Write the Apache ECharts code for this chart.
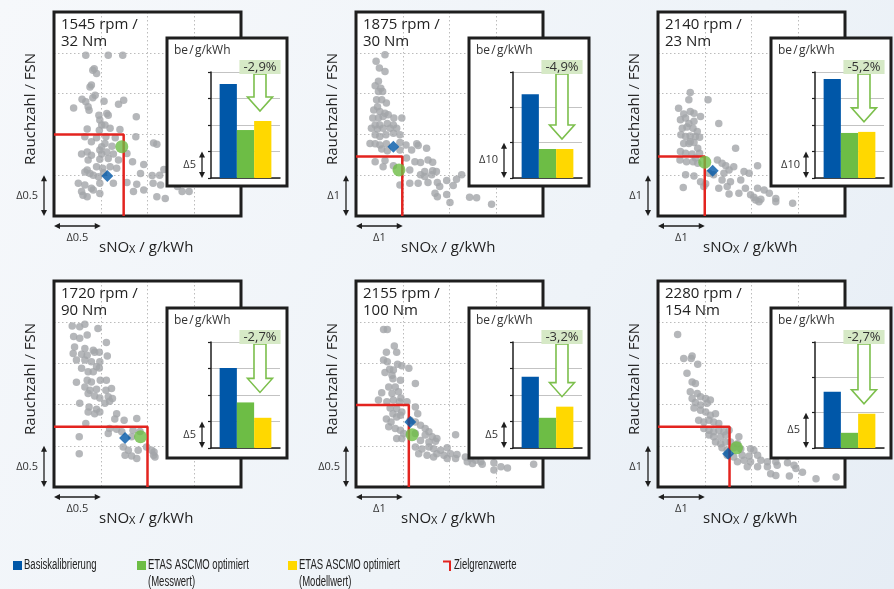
<!DOCTYPE html>
<html><head><meta charset="utf-8">
<script src="https://cdn.jsdelivr.net/npm/echarts@6/dist/echarts.min.js"></script>
<style>html,body{margin:0;padding:0;background:#f3f6fa}#c{width:894px;height:589px}</style>
</head><body><div id="c"></div>
<script>
// ---------- DATA ----------
const operatingPoints = [['1545 rpm /','32 Nm'],['1875 rpm /','30 Nm'],['2140 rpm /','23 Nm'],['1720 rpm /','90 Nm'],['2155 rpm /','100 Nm'],['2280 rpm /','154 Nm']];

// measured variation points (sNOx [scale steps], Rauchzahl [scale steps])
const cloud1545 = [[0.68,3.94],[1.16,3.94],[1.47,3.94],[0.86,3.61],[0.83,3.57],[0.91,3.49],[0.80,3.21],[0.77,3.16],[0.88,2.96],[0.83,2.90],[0.60,2.86],[0.68,2.80],[1.07,2.81],[1.49,2.84],[1.38,2.74],[0.42,2.65],[0.73,2.68],[0.75,2.59],[1.13,2.51],[1.16,2.47],[0.96,2.47],[0.98,2.35],[1.76,2.43],[1.02,2.23],[1.09,2.23],[0.97,2.10],[1.20,2.15],[1.41,2.12],[0.71,2.13],[0.66,1.94],[0.91,1.92],[1.11,1.94],[1.31,1.92],[1.75,1.94],[0.80,1.82],[1.09,1.78],[1.02,1.70],[1.24,1.71],[2.13,1.79],[2.20,1.76],[0.59,1.52],[0.71,1.57],[0.98,1.62],[1.13,1.57],[0.80,1.49],[1.02,1.52],[1.27,1.52],[1.56,1.53],[0.73,1.37],[0.98,1.39],[1.16,1.41],[1.38,1.37],[1.68,1.33],[1.92,1.26],[0.91,1.21],[1.04,1.17],[1.20,1.21],[0.71,1.13],[1.34,1.17],[0.66,1.08],[0.77,1.04],[0.84,1.00],[1.06,1.06],[0.95,0.96],[1.85,1.04],[2.10,0.99],[2.26,1.00],[2.35,1.14],[0.52,0.80],[0.66,0.76],[0.80,0.68],[0.98,0.80],[1.27,0.80],[1.77,0.78],[1.56,0.82],[0.59,0.60],[0.62,0.51],[0.84,0.64],[0.71,0.47],[0.98,0.55],[1.70,0.60],[1.92,0.64],[2.12,0.80],[2.28,0.76],[2.74,0.60],[2.89,0.60],[2.64,0.72],[2.20,0.47],[2.38,0.43]];
const cloud1875 = [[0.62,3.95],[0.43,3.79],[0.50,3.63],[0.62,3.54],[0.48,3.30],[0.41,3.19],[0.53,3.13],[0.48,3.05],[0.57,3.05],[0.44,2.85],[0.55,2.85],[0.65,2.77],[0.46,2.68],[0.38,2.60],[0.51,2.56],[0.62,2.52],[0.36,2.40],[0.48,2.40],[0.58,2.44],[0.69,2.48],[0.81,2.40],[0.98,2.40],[0.41,2.23],[0.51,2.23],[0.67,2.27],[0.80,2.23],[0.33,2.15],[0.46,2.13],[0.58,2.15],[0.73,2.15],[0.87,2.15],[0.41,1.99],[0.51,1.95],[0.64,1.99],[0.80,2.03],[0.94,1.99],[0.30,1.78],[0.41,1.77],[0.51,1.74],[0.65,1.77],[0.94,1.80],[1.07,1.74],[1.30,1.77],[1.33,1.73],[0.55,1.64],[0.67,1.60],[0.94,1.62],[1.19,1.62],[1.51,1.66],[0.41,1.33],[0.62,1.36],[1.08,1.42],[1.26,1.33],[1.38,1.31],[1.54,1.37],[1.64,1.32],[0.58,1.21],[0.80,1.23],[1.15,1.13],[1.47,1.09],[1.64,1.11],[1.72,1.09],[1.38,1.01],[1.47,0.97],[1.62,1.01],[2.26,1.01],[2.15,0.90],[1.15,0.80],[1.33,0.80],[1.54,0.82],[1.74,0.82],[1.94,0.87],[0.94,0.76],[1.79,0.72],[2.08,0.75],[1.69,0.56],[1.74,0.47],[1.94,0.53],[2.43,0.46],[2.58,0.45],[2.01,0.33],[2.90,0.29]];
const cloud2140 = [[0.69,3.03],[0.66,2.85],[1.07,2.85],[0.44,2.64],[0.55,2.50],[0.69,2.56],[0.77,2.52],[0.91,2.44],[0.48,2.36],[0.59,2.40],[0.66,2.27],[0.77,2.32],[1.30,2.27],[0.52,2.15],[0.62,2.18],[0.75,2.15],[0.84,2.07],[0.49,1.99],[0.59,1.95],[0.69,1.96],[0.80,1.95],[0.89,1.93],[0.69,1.82],[0.55,1.78],[0.66,1.78],[0.77,1.80],[0.85,1.66],[1.66,1.66],[0.89,1.54],[0.48,1.58],[0.59,1.54],[0.73,1.52],[0.80,1.42],[0.47,1.37],[0.61,1.33],[0.75,1.33],[0.85,1.29],[1.27,1.37],[1.37,1.29],[1.45,1.23],[2.13,1.23],[1.84,1.09],[1.95,1.05],[1.62,1.21],[1.52,1.13],[1.41,1.05],[0.59,1.01],[0.77,0.98],[1.09,1.05],[1.19,1.01],[0.91,0.84],[1.02,0.79],[1.37,0.88],[1.55,0.84],[1.77,0.88],[0.54,0.70],[0.98,0.72],[1.30,0.68],[1.48,0.72],[1.87,0.68],[2.13,0.68],[2.27,0.64],[1.52,0.54],[1.73,0.56],[1.98,0.52],[2.38,0.56],[2.09,0.39],[2.16,0.35],[2.20,0.41],[2.52,0.43],[2.52,0.35],[2.88,0.31],[2.05,0.46]];
const cloud1720 = [[0.39,3.91],[0.55,3.89],[0.66,3.95],[0.94,3.85],[0.42,3.65],[0.55,3.61],[0.71,3.69],[0.44,3.40],[0.66,3.36],[0.84,3.32],[1.12,3.51],[0.41,3.24],[0.59,3.22],[0.71,3.20],[0.87,3.27],[0.97,3.27],[1.14,3.18],[0.48,3.08],[0.66,3.08],[0.80,3.04],[0.98,3.04],[0.91,2.92],[0.59,2.88],[0.73,2.80],[0.84,2.80],[0.97,2.89],[0.48,2.54],[0.71,2.59],[0.80,2.55],[0.99,2.59],[1.12,2.59],[0.66,2.43],[0.77,2.35],[0.91,2.37],[1.11,2.35],[1.23,2.39],[0.73,2.27],[0.87,2.21],[1.16,2.19],[1.25,2.15],[0.98,2.16],[0.55,2.03],[0.75,1.94],[0.91,1.89],[1.09,2.03],[1.19,2.08],[0.73,1.82],[0.87,1.78],[0.98,1.82],[1.34,1.78],[0.68,1.54],[1.30,1.65],[1.50,1.62],[1.77,1.66],[1.19,1.42],[1.34,1.40],[1.45,1.34],[1.69,1.38],[1.84,1.35],[0.54,1.22],[1.16,1.30],[1.66,1.22],[1.48,0.97],[1.59,0.89],[1.80,0.89],[1.98,0.97],[2.09,0.89],[1.52,0.77],[1.66,0.75],[1.77,0.69],[2.13,0.77],[2.16,0.73],[2.14,0.85],[0.54,0.81]];
const cloud2155 = [[0.59,3.82],[0.67,3.82],[0.82,3.42],[0.65,3.27],[0.87,3.27],[0.59,3.08],[0.67,3.04],[0.89,2.98],[0.98,2.94],[0.72,2.86],[0.80,2.84],[1.13,2.88],[0.62,2.78],[0.77,2.71],[0.79,2.63],[0.95,2.59],[1.27,2.51],[0.70,2.43],[0.84,2.43],[0.55,2.29],[0.77,2.27],[0.91,2.31],[0.96,2.16],[0.48,2.11],[0.66,2.07],[0.80,2.11],[0.93,2.07],[1.09,2.07],[0.73,1.92],[0.87,1.90],[0.98,1.82],[1.27,1.94],[1.32,1.78],[0.79,1.78],[0.87,1.70],[0.95,1.74],[0.65,1.65],[0.75,1.58],[1.16,1.62],[1.27,1.58],[0.70,1.46],[0.84,1.42],[0.95,1.38],[1.38,1.50],[1.48,1.42],[1.56,1.34],[1.02,1.30],[1.27,1.30],[1.48,1.26],[1.63,1.22],[1.73,1.18],[2.13,1.27],[0.87,1.18],[0.98,1.18],[1.38,1.13],[1.56,1.09],[1.70,1.11],[1.27,0.97],[1.41,0.92],[1.56,0.97],[1.66,0.93],[1.81,0.89],[1.95,0.95],[1.34,0.81],[1.52,0.77],[1.73,0.81],[1.88,0.77],[2.02,0.81],[2.16,0.79],[1.66,0.73],[1.95,0.69],[2.13,0.69],[2.34,0.73],[2.45,0.69],[2.56,0.65],[2.38,0.61],[2.49,0.57],[2.67,0.61],[2.70,0.55],[2.95,0.59],[2.95,0.41],[3.10,0.49],[3.24,0.46],[3.80,0.55]];
const cloud2280 = [[0.42,3.70],[0.55,3.12],[0.73,3.18],[0.71,3.12],[0.85,2.98],[0.62,2.76],[0.73,2.55],[0.80,2.51],[0.69,2.31],[0.84,2.27],[0.91,2.19],[1.02,2.15],[1.12,2.11],[0.73,2.15],[0.80,2.05],[0.91,1.99],[1.05,2.03],[0.77,1.92],[0.91,1.86],[1.02,1.82],[1.12,1.74],[1.23,1.78],[0.87,1.62],[0.98,1.58],[1.09,1.62],[1.19,1.58],[1.30,1.54],[0.98,1.42],[1.09,1.38],[1.19,1.34],[1.30,1.38],[1.41,1.34],[1.52,1.38],[1.09,1.26],[1.19,1.22],[1.34,1.22],[1.45,1.26],[1.73,1.22],[1.23,1.09],[1.34,1.05],[1.45,1.09],[1.55,1.09],[1.70,1.05],[1.37,0.95],[1.48,0.89],[1.62,0.95],[1.77,0.92],[1.98,0.93],[2.05,0.89],[1.48,0.77],[1.62,0.73],[1.80,0.77],[1.95,0.75],[2.13,0.77],[1.70,0.61],[1.84,0.65],[1.98,0.61],[2.20,0.65],[2.34,0.61],[2.52,0.61],[2.77,0.59],[1.91,0.49],[2.13,0.49],[2.34,0.49],[2.55,0.53],[2.91,0.53],[2.95,0.45],[2.41,0.32],[2.52,0.28],[2.81,0.27],[3.09,0.36],[3.38,0.20],[3.81,0.24]];
const clouds = [cloud1545, cloud1875, cloud2140, cloud1720, cloud2155, cloud2280];

const limitValues = [[1.49,2.00],[0.99,1.46],[1.00,1.46],[2.00,1.46],[1.13,1.99],[1.53,1.46]];
const basisPoints = [[1.14,0.98],[0.80,1.70],[1.17,1.11],[1.52,1.19],[1.16,1.58],[1.50,0.81]];
const ascmoPoints = [[1.45,1.70],[0.92,1.13],[1.00,1.32],[1.85,1.22],[1.20,1.27],[1.68,0.95]];

// fuel consumption be (in scale steps)
const beBasis      = [3.55, 2.37, 3.74, 3.02, 2.69, 1.59];
const beMesswert   = [1.81, 0.82, 1.70, 1.72, 1.14, 0.43];
const beModellwert = [2.15, 0.82, 1.74, 1.14, 1.56, 0.97];
const beSavings = ['-2,9%','-4,9%','-5,2%','-2,7%','-3,2%','-2,7%'];
const beSteps = [4, 3, 4, 4, 4, 3];

const noxScale = ['Δ0.5','Δ1','Δ1','Δ0.5','Δ1','Δ1'];
const fsnScale = ['Δ0.5','Δ1','Δ1','Δ0.5','Δ0.5','Δ1'];
const beScale  = ['Δ5','Δ10','Δ10','Δ5','Δ5','Δ5'];

const legendLabels = ['Basiskalibrierung','ETAS ASCMO optimiert\n(Messwert)','ETAS ASCMO optimiert\n(Modellwert)','Zielgrenzwerte'];

// ---------- STYLE / LAYOUT ----------
const C_BLUE = '#0057a8', C_GREEN = '#6dbd45', C_YEL = '#ffd800', C_RED = '#e3241f', C_GRAY = '#a2a5a9', C_INK = '#1e1e1e';
const FONT = '"Open Sans","Noto Sans",sans-serif';
const COLS = [54, 356, 658];
const ROWS = [{top:12, h:204, inset:26, ih:148}, {top:281, h:206, inset:27, ih:150}];
const W = 187;

const chart = echarts.init(document.getElementById('c'), null, {renderer:'canvas'});
const grid = [], xAxis = [], yAxis = [], series = [], graphic = [];

function dblArrow(x1, y1, x2, y2, z) {
  const horiz = y1 === y2, a = 6, b = 3;
  const pts1 = horiz ? [[x1,y1],[x1+a,y1-b],[x1+a,y1+b]] : [[x1,y1],[x1-b,y1+a],[x1+b,y1+a]];
  const pts2 = horiz ? [[x2,y2],[x2-a,y2-b],[x2-a,y2+b]] : [[x2,y2],[x2-b,y2-a],[x2+b,y2-a]];
  return {type:'group', z:z, children:[
    {type:'line', z:z, shape:{x1:x1+(horiz?3:0), y1:y1+(horiz?0:3), x2:x2-(horiz?3:0), y2:y2-(horiz?0:3)}, style:{stroke:C_INK, lineWidth:1.3}},
    {type:'polygon', z:z, shape:{points:pts1}, style:{fill:C_INK}},
    {type:'polygon', z:z, shape:{points:pts2}, style:{fill:C_INK}}
  ]};
}

const dotted = {show:true, showMinLine:false, showMaxLine:false, lineStyle:{color:'#bcbcbc', type:[1.5,2.5], width:1}};
for (let i = 0; i < 6; i++) {
  const col = COLS[i % 3], row = ROWS[Math.floor(i / 3)];
  grid.push({left:col, top:row.top, width:W, height:row.h, show:true, backgroundColor:'#fff', borderWidth:0, z:0});
  xAxis.push({type:'value', gridIndex:i, min:0, max:4, interval:1, axisLine:{show:false}, axisTick:{show:false}, axisLabel:{show:false}, splitLine:dotted});
  yAxis.push({type:'value', gridIndex:i, min:0, max:5, interval:1, axisLine:{show:false}, axisTick:{show:false}, axisLabel:{show:false}, splitLine:dotted});
}
for (let i = 0; i < 6; i++) {
  const col = COLS[i % 3], row = ROWS[Math.floor(i / 3)];
  const insetTop = row.top + row.inset;
  grid.push({left:col+157, top:insetTop+34, width:69, height:106, z:6});
  xAxis.push({type:'category', gridIndex:6+i, data:['be'], z:6, axisLine:{show:true, lineStyle:{color:C_INK, width:1.5}}, axisTick:{show:false}, axisLabel:{show:false}, splitLine:{show:false}});
  yAxis.push({type:'value', gridIndex:6+i, min:0, max:beSteps[i], interval:1, z:6,
    axisLine:{show:true, lineStyle:{color:C_INK, width:1.5}}, axisTick:{show:true, length:3, lineStyle:{color:C_INK, width:1.2}},
    axisLabel:{show:false}, splitLine:{show:true, lineStyle:{color:'#c3c3c3', width:1.2}}});
}

for (let i = 0; i < 6; i++) {
  const lim = limitValues[i];
  series.push({type:'scatter', xAxisIndex:i, yAxisIndex:i, data:clouds[i], symbolSize:7.5, itemStyle:{color:C_GRAY}, z:2, silent:true});
  series.push({type:'line', xAxisIndex:i, yAxisIndex:i, data:[[0, lim[1]], [lim[0], lim[1]], [lim[0], 0]], symbol:'none',
    lineStyle:{color:C_RED, width:2.5}, z:3, silent:true});
  series.push({type:'scatter', xAxisIndex:i, yAxisIndex:i, data:[ascmoPoints[i]], symbol:'circle', symbolSize:13, itemStyle:{color:C_GREEN}, z:4, silent:true});
  series.push({type:'scatter', xAxisIndex:i, yAxisIndex:i, data:[basisPoints[i]], symbol:'diamond', symbolSize:12, itemStyle:{color:C_BLUE}, z:4, silent:true});
  [[beBasis, C_BLUE], [beMesswert, C_GREEN], [beModellwert, C_YEL]].forEach(([arr, c]) => {
    series.push({type:'bar', xAxisIndex:6+i, yAxisIndex:6+i, data:[arr[i]], barWidth:'25%', barGap:'0%', itemStyle:{color:c}, z:7, silent:true});
  });
  const label = beSavings[i];
  series.push({type:'custom', xAxisIndex:6+i, yAxisIndex:6+i, z:8, clip:false, silent:true,
    data:[[0, Math.max(beMesswert[i], beModellwert[i])]],
    renderItem: function (params, api) {
      const cs = params.coordSys;
      const xc = cs.x + cs.width * 0.71, top = cs.y + 2;
      const tip = api.coord([0, api.value(1)])[1] - 10;
      const hh = 12.5, sh = 6, headH = 14;
      return {type:'group', children:[
        {type:'polygon', shape:{points:[[xc-sh,top],[xc+sh,top],[xc+sh,tip-headH],[xc+hh,tip-headH],[xc,tip],[xc-hh,tip-headH],[xc-sh,tip-headH]]},
          style:{fill:'#fff', stroke:'#7cbf4c', lineWidth:1.6}},
        {type:'text', x:xc, y:cs.y+2, style:{text:label, fill:'#333', font:'13px ' + FONT, align:'center', verticalAlign:'bottom',
          backgroundColor:'#d6e9c6', padding:[1,4,0,4]}}
      ]};
    }});
}

for (let i = 0; i < 6; i++) {
  const col = COLS[i % 3], row = ROWS[Math.floor(i / 3)];
  const bottom = row.top + row.h, insetTop = row.top + row.inset;
  const ix = col + 113;
  graphic.push({type:'rect', z:1, shape:{x:col, y:row.top, width:W, height:row.h}, style:{fill:null, stroke:C_INK, lineWidth:3}});
  graphic.push({type:'text', z:3, x:col+7, y:row.top+4, style:{text:operatingPoints[i].join('\n'), font:'15px ' + FONT, fill:'#222', lineHeight:17}});
  graphic.push({type:'text', z:3, x:col-23, y:row.top+row.h/2 - 5, rotation:Math.PI/2, style:{text:'Rauchzahl / FSN', font:'15px ' + FONT, fill:'#222', align:'center', verticalAlign:'middle'}});
  graphic.push({type:'text', z:3, x:col+45, y:bottom+29, style:{text:'{m|sNO}{s|X}{m| / g/kWh}', verticalAlign:'middle',
    rich:{m:{font:'15px ' + FONT, fill:'#222', lineHeight:20, verticalAlign:'bottom'}, s:{font:'11px ' + FONT, fill:'#222', lineHeight:14, verticalAlign:'bottom'}}}});
  const xStep = W / 4, yStep = row.h / 5;
  graphic.push(dblArrow(col, bottom+10, col+xStep, bottom+10, 3));
  graphic.push({type:'text', z:3, x:col+xStep/2, y:bottom+22, style:{text:noxScale[i], font:'11px ' + FONT, fill:'#333', align:'center', verticalAlign:'middle'}});
  graphic.push(dblArrow(col-10, bottom-yStep, col-10, bottom, 3));
  graphic.push({type:'text', z:3, x:col-16, y:bottom-yStep/2, style:{text:fsnScale[i], font:'11px ' + FONT, fill:'#333', align:'right', verticalAlign:'middle'}});
  graphic.push({type:'rect', z:5, shape:{x:ix, y:insetTop, width:120, height:row.ih}, style:{fill:'#fff', stroke:C_INK, lineWidth:3}});
  graphic.push({type:'text', z:6, x:ix+7, y:insetTop+13, style:{text:'be\u200a/\u200ag/kWh', font:'12px ' + FONT, fill:'#333', verticalAlign:'middle'}});
  const pb = insetTop + 34 + 106, ps = 106 / beSteps[i];
  graphic.push(dblArrow(ix+35, pb-ps, ix+35, pb, 6));
  graphic.push({type:'text', z:6, x:ix+29, y:pb-ps/2, style:{text:beScale[i], font:'11px ' + FONT, fill:'#333', align:'right', verticalAlign:'middle'}});
}

// legend
const legendX = [13, 137, 288, 443], legendCol = [C_BLUE, C_GREEN, C_YEL, C_RED];
legendLabels.forEach((t, k) => {
  if (k < 3) graphic.push({type:'rect', z:3, shape:{x:legendX[k], y:561, width:9, height:9}, style:{fill:legendCol[k]}});
  else graphic.push({type:'polyline', z:3, shape:{points:[[legendX[k],561.5],[legendX[k]+7,561.5],[legendX[k]+7,571]]}, style:{stroke:C_RED, lineWidth:2, fill:null}});
  graphic.push({type:'text', z:3, x:legendX[k]+11, y:557, scaleX:0.68, style:{text:t, font:'14px "Liberation Sans",sans-serif', fill:'#222', lineHeight:17}});
});

chart.setOption({
  animation:false,
  backgroundColor:{type:'linear', x:0, y:0, x2:1, y2:1, colorStops:[{offset:0, color:'#f6f8fb'}, {offset:0.6, color:'#eef3f8'}, {offset:1, color:'#e6edf5'}]},
  grid, xAxis, yAxis, series, graphic
});
</script></body></html>
